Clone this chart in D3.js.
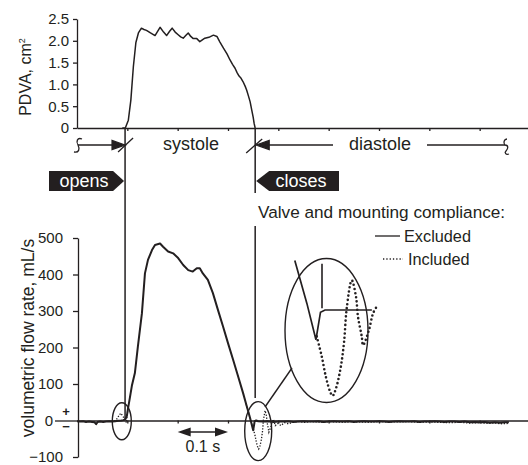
<!DOCTYPE html>
<html>
<head>
<meta charset="utf-8">
<script src="https://cdn.jsdelivr.net/npm/d3@7"></script>
<style>
    body { margin: 0; background: #fff; }
    svg text { font-family: "Liberation Sans", Arial, Helvetica, sans-serif; fill: #231f20; }
</style>
</head>
<body>
<div id="chart"></div>
<script>
// PDVA trace: time (ms) and area (cm^2)
const pdvaTime = [90, 96, 102, 107, 112, 117, 122, 128, 133, 138, 146, 155, 165, 172, 178, 184, 189, 195, 201, 206, 211, 216, 221, 226, 231, 238, 244, 249, 254, 262, 271, 278, 284, 291, 298, 304, 309, 314, 318, 322, 326, 330, 334, 337, 341, 344, 347, 350, 352, 354];
const pdvaArea = [0, 0, 0.18, 0.64, 1.41, 1.96, 2.18, 2.29, 2.26, 2.24, 2.18, 2.12, 2.31, 2.2, 2.12, 2.22, 2.29, 2.2, 2.14, 2.09, 2.06, 2.12, 2.18, 2.1, 2.05, 2.05, 1.98, 2.02, 2.06, 2.08, 2.13, 2.1, 1.97, 1.83, 1.7, 1.56, 1.46, 1.37, 1.27, 1.19, 1.14, 1.06, 0.96, 0.87, 0.72, 0.6, 0.42, 0.25, 0.1, 0];

// volumetric flow rate (mL/s), valve and mounting compliance excluded
const flowTime = [0, 6, 12, 18, 24, 30, 35, 38, 41, 46, 52, 58, 64, 70, 76, 82, 88, 92, 96, 99, 101, 105, 109, 115, 121, 129, 135, 141, 149, 155, 165, 171, 181, 191, 201, 211, 221, 230, 238, 244, 250, 260, 270, 280, 290, 300, 310, 320, 330, 336, 344, 350, 353, 356,
    360, 370, 380, 390, 400, 410, 420, 430, 440, 450, 460, 470, 480, 490, 500, 510, 520, 530, 540, 550, 560, 570, 580, 590, 600, 610, 620, 630, 640, 650, 660, 670, 680, 690, 700, 710, 720, 730, 740, 750, 760, 770, 780, 790, 800, 810, 820, 830, 840, 850, 858];
const flowExcluded = [-2, -3, -2, -4, -3, -4, -5, -10, -4, -3, -4, -3, -2, -3, -2, -1, 0, 1, 3, 12, 30, 62, 95, 130, 203, 294, 403, 440, 467, 481, 485, 476, 463, 458, 445, 426, 412, 408, 417, 417, 403, 385, 349, 303, 258, 212, 167, 121, 75, 45, 6, -27, -2, 0,
    -2, -3, -2, -4, -3, -3, -2, -4, -3, -2, -3, -3, -2, -4, -3, -2, -3, -3, -2, -4, -3, -2, -3, -3, -2, -3, -4, -3, -2, -3, -3, -2, -4, -3, -3, -2, -3, -4, -3, -3, -4, -3, -5, -4, -5, -4, -6, -5, -6, -5, -5];

// compliance included, only where it departs from the excluded trace (null = gap)
const inclTime = [74, 78, 81, 84, 87, 90, 93, 96, 98, 101, null,
    336, 344, 350.5, 353.8, 356.6, 359.3, 361, 363.3, 366.4, 368.6, 370.4, 373.7, 376.5, 377.8, 380.3, 381.2, 385.1, 387.8, 390.2, 394, 399, 405, 412, 420, 430, 440,
    452, 464, 476, 488, 500, 515, 530, 545, 560, 580, 600, 620, 640, 660, 680, 700, 720, 740, 760, 780, 800, 815, 830, 845, 858];
const inclFlow = [-2, 2, 8, 15, 20, 14, 8, 3, -6, 30, null,
    45, 6, -24, -42, -61, -74, -78, -71, -52, -29, 2, 27, 12, -6, -24, -32, -18, -3, 3, -14, -8, -14, -6, -9, -4, -3,
    -5, -3, -4, -5, -3, -4, -5, -3, -4, -5, -3, -4, -4, -3, -5, -4, -5, -6, -5, -7, -6, -8, -7, -9, -8, -6];

const pdvaTicks = [0, 0.5, 1.0, 1.5, 2.0, 2.5];
const flowTicks = [-100, 0, 100, 200, 300, 400, 500];
const timeTicks = [100, 200, 300, 400, 500, 600, 700, 800, 900];

const valveOpen = 95.5;   // ms
const valveClose = 354;   // ms

const ink = "#231f20";
const W = 528, H = 465;

const svg = d3.select("#chart").append("svg")
    .attr("width", W)
    .attr("height", H);

// scales
const x = d3.scaleLinear().domain([0, 900]).range([77, 530]);
const yTop = d3.scaleLinear().domain([0, 2.5]).range([128, 19]);
const yBot = d3.scaleLinear().domain([-100, 500]).range([457, 238]);

// inset (magnified view of the closure)
const xIn = d3.scaleLinear().domain([354, 390]).range([322, 376.4]);
const yIn = d3.scaleLinear().domain([0, 30]).range([310, 277]);

function styleAxis(g, fs) {
    g.attr("font-family", null).attr("font-size", null);
    g.selectAll("path, line").attr("stroke", ink).attr("stroke-width", 1.3);
    g.selectAll("text").attr("font-size", fs).style("fill", ink);
}

// ---- top panel: PDVA
svg.append("g")
    .attr("transform", "translate(77,0)")
    .call(d3.axisLeft(yTop).tickValues(pdvaTicks).tickSize(4).tickSizeOuter(0).tickPadding(4)
        .tickFormat(d => d === 0 ? "0" : d3.format(".1f")(d)))
    .call(g => styleAxis(g, 15));

svg.append("g")
    .attr("transform", "translate(0,128)")
    .call(d3.axisBottom(x).tickValues(timeTicks).tickSize(3).tickSizeOuter(0).tickFormat(""))
    .call(g => styleAxis(g, 15));

svg.append("text")
    .attr("transform", "translate(31,77) rotate(-90)")
    .attr("text-anchor", "middle")
    .attr("font-size", 16)
    .html('PDVA, cm<tspan dy="-6" font-size="9">2</tspan>');

const pdvaLine = d3.line()
    .x((d, i) => x(pdvaTime[i]))
    .y(d => yTop(d));

svg.append("path")
    .datum(pdvaArea)
    .attr("d", pdvaLine)
    .attr("fill", "none")
    .attr("stroke", ink)
    .attr("stroke-width", 1.5)
    .attr("stroke-linejoin", "round");

// ---- systole / diastole band
const bandY = 145;
const xo = x(valveOpen), xc = x(valveClose);
const band = svg.append("g").attr("stroke", ink).attr("fill", "none").attr("stroke-width", 1.3);

band.append("path").attr("d", `M82,139 C77,137 76,142 78,145 C80,149 79,153 74,152`);
band.append("line").attr("x1", 78).attr("x2", xo - 10).attr("y1", bandY).attr("y2", bandY);
band.append("path").attr("d", `M${xo},${bandY} L${xo - 13},${bandY - 4.5} L${xo - 13},${bandY + 4.5}Z`).attr("fill", ink);
band.append("line").attr("x1", xo - 7).attr("y1", bandY + 7).attr("x2", xo + 8).attr("y2", bandY - 7);

band.append("line").attr("x1", xc - 9).attr("y1", bandY + 8).attr("x2", xc + 7).attr("y2", bandY - 6);
band.append("path").attr("d", `M${xc + 1},${bandY} L${xc + 14},${bandY - 4.5} L${xc + 14},${bandY + 4.5}Z`).attr("fill", ink);
band.append("line").attr("x1", xc + 10).attr("x2", 333).attr("y1", bandY).attr("y2", bandY);
band.append("line").attr("x1", 427).attr("x2", 505).attr("y1", bandY).attr("y2", bandY);
band.append("path").attr("d", `M505,145 C509,145 508,149 506,151 C504,153 506,155 509,154 M505,145 C503,143 504,139 507,139`);

svg.append("text").attr("x", 191).attr("y", 150).attr("text-anchor", "middle").attr("font-size", 18).text("systole");
svg.append("text").attr("x", 380).attr("y", 150).attr("text-anchor", "middle").attr("font-size", 18).text("diastole");

// valve event lines
svg.append("line").attr("x1", xo).attr("x2", xo).attr("y1", 128).attr("y2", yBot(0))
    .attr("stroke", ink).attr("stroke-width", 1.5);
svg.append("line").attr("x1", xc).attr("x2", xc).attr("y1", 128).attr("y2", 193)
    .attr("stroke", ink).attr("stroke-width", 1.5);
svg.append("line").attr("x1", xc).attr("x2", xc).attr("y1", 226).attr("y2", 398)
    .attr("stroke", ink).attr("stroke-width", 1.5);

// opens / closes tags
svg.append("path")
    .attr("d", `M49,171 L${xo - 12},171 L${xo - 1},181 L${xo - 12},191 L49,191Z`)
    .attr("fill", ink);
svg.append("text").attr("x", 84).attr("y", 187).attr("text-anchor", "middle").attr("font-size", 18)
    .style("fill", "#fff").text("opens");
svg.append("path")
    .attr("d", `M${xc + 1},181 L${xc + 14},171 L339,171 L339,191 L${xc + 14},191Z`)
    .attr("fill", ink);
svg.append("text").attr("x", 301).attr("y", 187).attr("text-anchor", "middle").attr("font-size", 18)
    .style("fill", "#fff").text("closes");

// ---- bottom panel: flow
const botY = svg.append("g")
    .attr("transform", "translate(78,0)")
    .call(d3.axisLeft(yBot).tickValues(flowTicks).tickSize(5).tickSizeOuter(0).tickPadding(10)
        .tickFormat(d => d < 0 ? "\u2212" + Math.abs(d) : d))
    .call(g => styleAxis(g, 15));
botY.selectAll(".tick").filter(d => d === 0).select("line").attr("x2", -23);
botY.selectAll(".tick").filter(d => d === 0).select("text").attr("x", -25);

svg.append("g")
    .attr("transform", `translate(0,${yBot(0)})`)
    .call(d3.axisBottom(x).tickValues(timeTicks).tickSize(3).tickSizeOuter(0).tickFormat(""))
    .call(g => styleAxis(g, 15));

// sign markers either side of zero
svg.append("text").attr("x", 66).attr("y", yBot(0) - 5).attr("text-anchor", "middle")
    .attr("font-size", 13).attr("font-weight", "bold").text("+");
svg.append("text").attr("x", 66).attr("y", yBot(0) + 10.5).attr("text-anchor", "middle")
    .attr("font-size", 13).attr("font-weight", "bold").text("\u2212");

svg.append("text")
    .attr("transform", `translate(34,${338}) rotate(-90)`)
    .attr("text-anchor", "middle")
    .attr("font-size", 17.5)
    .text("volumetric flow rate, mL/s");

const flowLine = d3.line()
    .defined(d => d !== null)
    .x(d => x(d[0]))
    .y(d => yBot(d[1]));

const excl = flowTime.map((t, i) => [t, flowExcluded[i]]);
const incl = inclTime.map((t, i) => t === null ? null : [t, inclFlow[i]]);

svg.append("path")
    .datum(incl)
    .attr("d", flowLine)
    .attr("fill", "none")
    .attr("stroke", ink)
    .attr("stroke-width", 1.3)
    .attr("stroke-dasharray", "1.3,1.6");

svg.append("path")
    .datum(excl)
    .attr("d", flowLine)
    .attr("fill", "none")
    .attr("stroke", ink)
    .attr("stroke-width", 2)
    .attr("stroke-linejoin", "round");

// 0.1 s scale bar
const sb = svg.append("g").attr("stroke", ink).attr("fill", ink);
sb.append("line").attr("x1", x(200) + 8).attr("x2", x(300) - 8).attr("y1", 432).attr("y2", 432).attr("stroke-width", 1.5);
sb.append("path").attr("d", `M${x(200)},432 L${x(200) + 13},427.5 L${x(200) + 13},436.5Z`).attr("stroke", "none");
sb.append("path").attr("d", `M${x(300)},432 L${x(300) - 13},427.5 L${x(300) - 13},436.5Z`).attr("stroke", "none");
svg.append("text").attr("x", (x(200) + x(300)) / 2).attr("y", 452).attr("text-anchor", "middle")
    .attr("font-size", 16).text("0.1 s");

// ---- highlight ellipses and magnified inset
const ann = svg.append("g").attr("fill", "none").attr("stroke", ink).attr("stroke-width", 1.4);
ann.append("ellipse").attr("cx", x(89)).attr("cy", yBot(-2)).attr("rx", 9.5).attr("ry", 18.5);
ann.append("ellipse").attr("cx", x(360)).attr("cy", yBot(-29)).attr("rx", 13.5).attr("ry", 29.5);
ann.append("ellipse").attr("cx", 326.5).attr("cy", 330.5).attr("rx", 41.5).attr("ry", 72);
ann.append("line").attr("x1", 265).attr("y1", 407).attr("x2", 292).attr("y2", 368);

const inLine = d3.line()
    .defined(d => d !== null)
    .x(d => xIn(d[0]))
    .y(d => yIn(d[1]));

ann.append("line").attr("x1", xIn(valveClose)).attr("x2", xIn(valveClose))
    .attr("y1", yIn(42)).attr("y2", yIn(1.5)).attr("stroke-width", 1.6);

ann.append("path")
    .datum(excl.filter(d => d[0] >= 336 && d[0] <= 356).concat([[387, 0]]))
    .attr("d", inLine)
    .attr("stroke-width", 1.7);

ann.append("path")
    .datum(incl.filter(d => d !== null && d[0] >= 350 && d[0] <= 391))
    .attr("d", inLine.curve(d3.curveCatmullRom))
    .attr("stroke-width", 2.6)
    .attr("stroke-linecap", "round")
    .attr("stroke-dasharray", "0,4.2");

// ---- legend
svg.append("text").attr("x", 258).attr("y", 218).attr("font-size", 17.2).text("Valve and mounting compliance:");
svg.append("line").attr("x1", 375).attr("x2", 400).attr("y1", 236).attr("y2", 236)
    .attr("stroke", ink).attr("stroke-width", 1.3);
svg.append("text").attr("x", 404).attr("y", 242).attr("font-size", 16.3).text("Excluded");
svg.append("line").attr("x1", 383).attr("x2", 403).attr("y1", 259).attr("y2", 259)
    .attr("stroke", ink).attr("stroke-width", 1.3).attr("stroke-dasharray", "1.3,2");
svg.append("text").attr("x", 408).attr("y", 265).attr("font-size", 16.3).text("Included");
</script>
</body>
</html>
